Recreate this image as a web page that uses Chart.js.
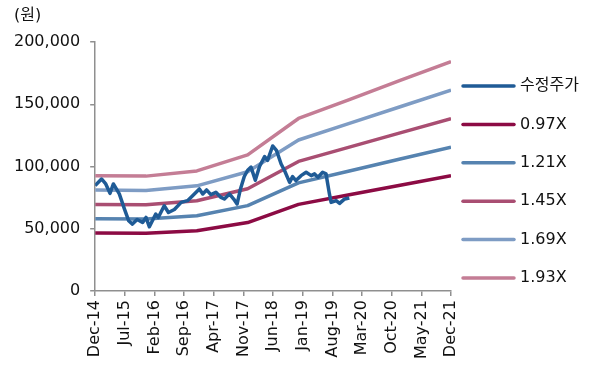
<!DOCTYPE html>
<html>
<head>
<meta charset="utf-8">
<script src="https://cdn.jsdelivr.net/npm/chart.js@4.4.1/dist/chart.umd.min.js"></script>
<style>
    html, body { margin: 0; padding: 0; background: #fff; }
</style>
</head>
<body>
<canvas id="chartPbr" width="595" height="369"></canvas>
<script>
// x축 눈금 (7개월 간격)
const xLabels = ['Dec-14', 'Jul-15', 'Feb-16', 'Sep-16', 'Apr-17', 'Nov-17', 'Jun-18',
                 'Jan-19', 'Aug-19', 'Mar-20', 'Oct-20', 'May-21', 'Dec-21'];

// PBR 밴드 (Dec-14 기준 개월 수, 연말 값)
const bandMonths = [0, 12, 24, 36, 48, 60, 72, 84];
const band097 = [46600, 46400, 48500, 55000, 69600, 77300, 85000, 92600];
const band121 = [58100, 57800, 60500, 68600, 86900, 96400, 106000, 115600];
const band145 = [69600, 69300, 72500, 82200, 104100, 115600, 127000, 138500];
const band169 = [81100, 80800, 84500, 95800, 121300, 134700, 148000, 161400];
const band193 = [92600, 92300, 96500, 109400, 138600, 153800, 169100, 184300];

// 수정주가
const stockMonths = [0, 1.5, 2.5, 3.5, 4.3, 5.7, 6.9, 7.9, 8.8, 9.9, 11.2, 12.0, 12.8, 14.3, 14.9,
                     16.3, 17.3, 18.7, 20.3, 21.8, 23.0, 24.6, 25.4, 26.3, 27.3, 28.5, 29.7, 30.5,
                     31.7, 32.7, 33.5, 34.3, 35.2, 36.0, 36.8, 37.8, 38.8, 40.0, 40.7, 41.9, 42.8,
                     43.9, 44.7, 45.9, 46.6, 47.4, 48.6, 49.8, 51.0, 51.8, 52.6, 53.7, 54.5, 55.3,
                     55.7, 56.9, 57.7, 58.9, 60.0];
const stockPrices = [84700, 90000, 86000, 78500, 86000, 78000, 66000, 56500, 53800, 57500, 55100, 59100, 51600, 61900, 59100,
                     68500, 63100, 65500, 71200, 72600, 76600, 82000, 78000, 81200, 77400, 79300, 75200, 73900,
                     78000, 73900, 69900, 82000, 92000, 97000, 99500, 89000, 100000, 108000, 105000, 116500, 113000,
                     102000, 96800, 87300, 91900, 88700, 92700, 95400, 92700, 94100, 91400, 95400, 94100, 78000,
                     71200, 72600, 70400, 74000, 74800];

const fontFamily = '"DejaVu Sans", "Noto Sans CJK KR", sans-serif';

function toPoints(xs, ys) {
    return xs.map((x, i) => ({ x: x, y: ys[i] }));
}

function lineSet(label, xs, ys, color) {
    return {
        label: label,
        data: toPoints(xs, ys),
        borderColor: color,
        backgroundColor: color,
        borderWidth: 3.5,
        pointRadius: 0,
        tension: 0,
        borderJoinStyle: 'round'
    };
}

// 범례 + 단위 직접 그리기
const legendAndUnit = {
    id: 'legendAndUnit',
    afterDraw(chart) {
        const ctx = chart.ctx;
        ctx.save();
        ctx.font = '16px ' + fontFamily;
        ctx.fillStyle = '#111';
        ctx.textBaseline = 'middle';
        ctx.fillText('(원)', 14, 16);
        chart.data.datasets.forEach((ds, i) => {
            const y = 86 + i * 38.4;
            ctx.strokeStyle = ds.borderColor;
            ctx.lineWidth = 3.5;
            ctx.lineCap = 'round';
            ctx.beginPath();
            ctx.moveTo(463, y);
            ctx.lineTo(514, y);
            ctx.stroke();
            ctx.fillText(ds.label, 520, y);
        });
        ctx.restore();
    }
};

new Chart(document.getElementById('chartPbr'), {
    type: 'line',
    data: {
        datasets: [
            lineSet('수정주가', stockMonths, stockPrices, '#1f5b96'),
            lineSet('0.97X', bandMonths, band097, '#8c0b44'),
            lineSet('1.21X', bandMonths, band121, '#5683b0'),
            lineSet('1.45X', bandMonths, band145, '#a94e72'),
            lineSet('1.69X', bandMonths, band169, '#7e9cc4'),
            lineSet('1.93X', bandMonths, band193, '#c47d95')
        ]
    },
    options: {
        responsive: false,
        animation: false,
        layout: { padding: { left: 4, right: 144, top: 42, bottom: 6 } },
        plugins: {
            legend: { display: false },
            tooltip: { enabled: false }
        },
        scales: {
            x: {
                type: 'linear',
                min: 0,
                max: 84,
                grid: { drawOnChartArea: false, tickLength: 5, color: '#8f8f8f', lineWidth: 1.5 },
                border: { color: '#8f8f8f', width: 1.5 },
                ticks: {
                    stepSize: 7,
                    autoSkip: false,
                    minRotation: 90,
                    maxRotation: 90,
                    padding: 4,
                    color: '#111',
                    font: { family: fontFamily, size: 16 },
                    callback: v => xLabels[v / 7] ?? ''
                }
            },
            y: {
                min: 0,
                max: 200000,
                grid: { drawOnChartArea: false, tickLength: 5, color: '#8f8f8f', lineWidth: 1.5 },
                border: { color: '#8f8f8f', width: 1.5 },
                ticks: {
                    stepSize: 50000,
                    padding: 10,
                    color: '#111',
                    font: { family: fontFamily, size: 16 },
                    callback: v => v.toLocaleString('en-US')
                }
            }
        }
    },
    plugins: [legendAndUnit]
});
</script>
</body>
</html>
